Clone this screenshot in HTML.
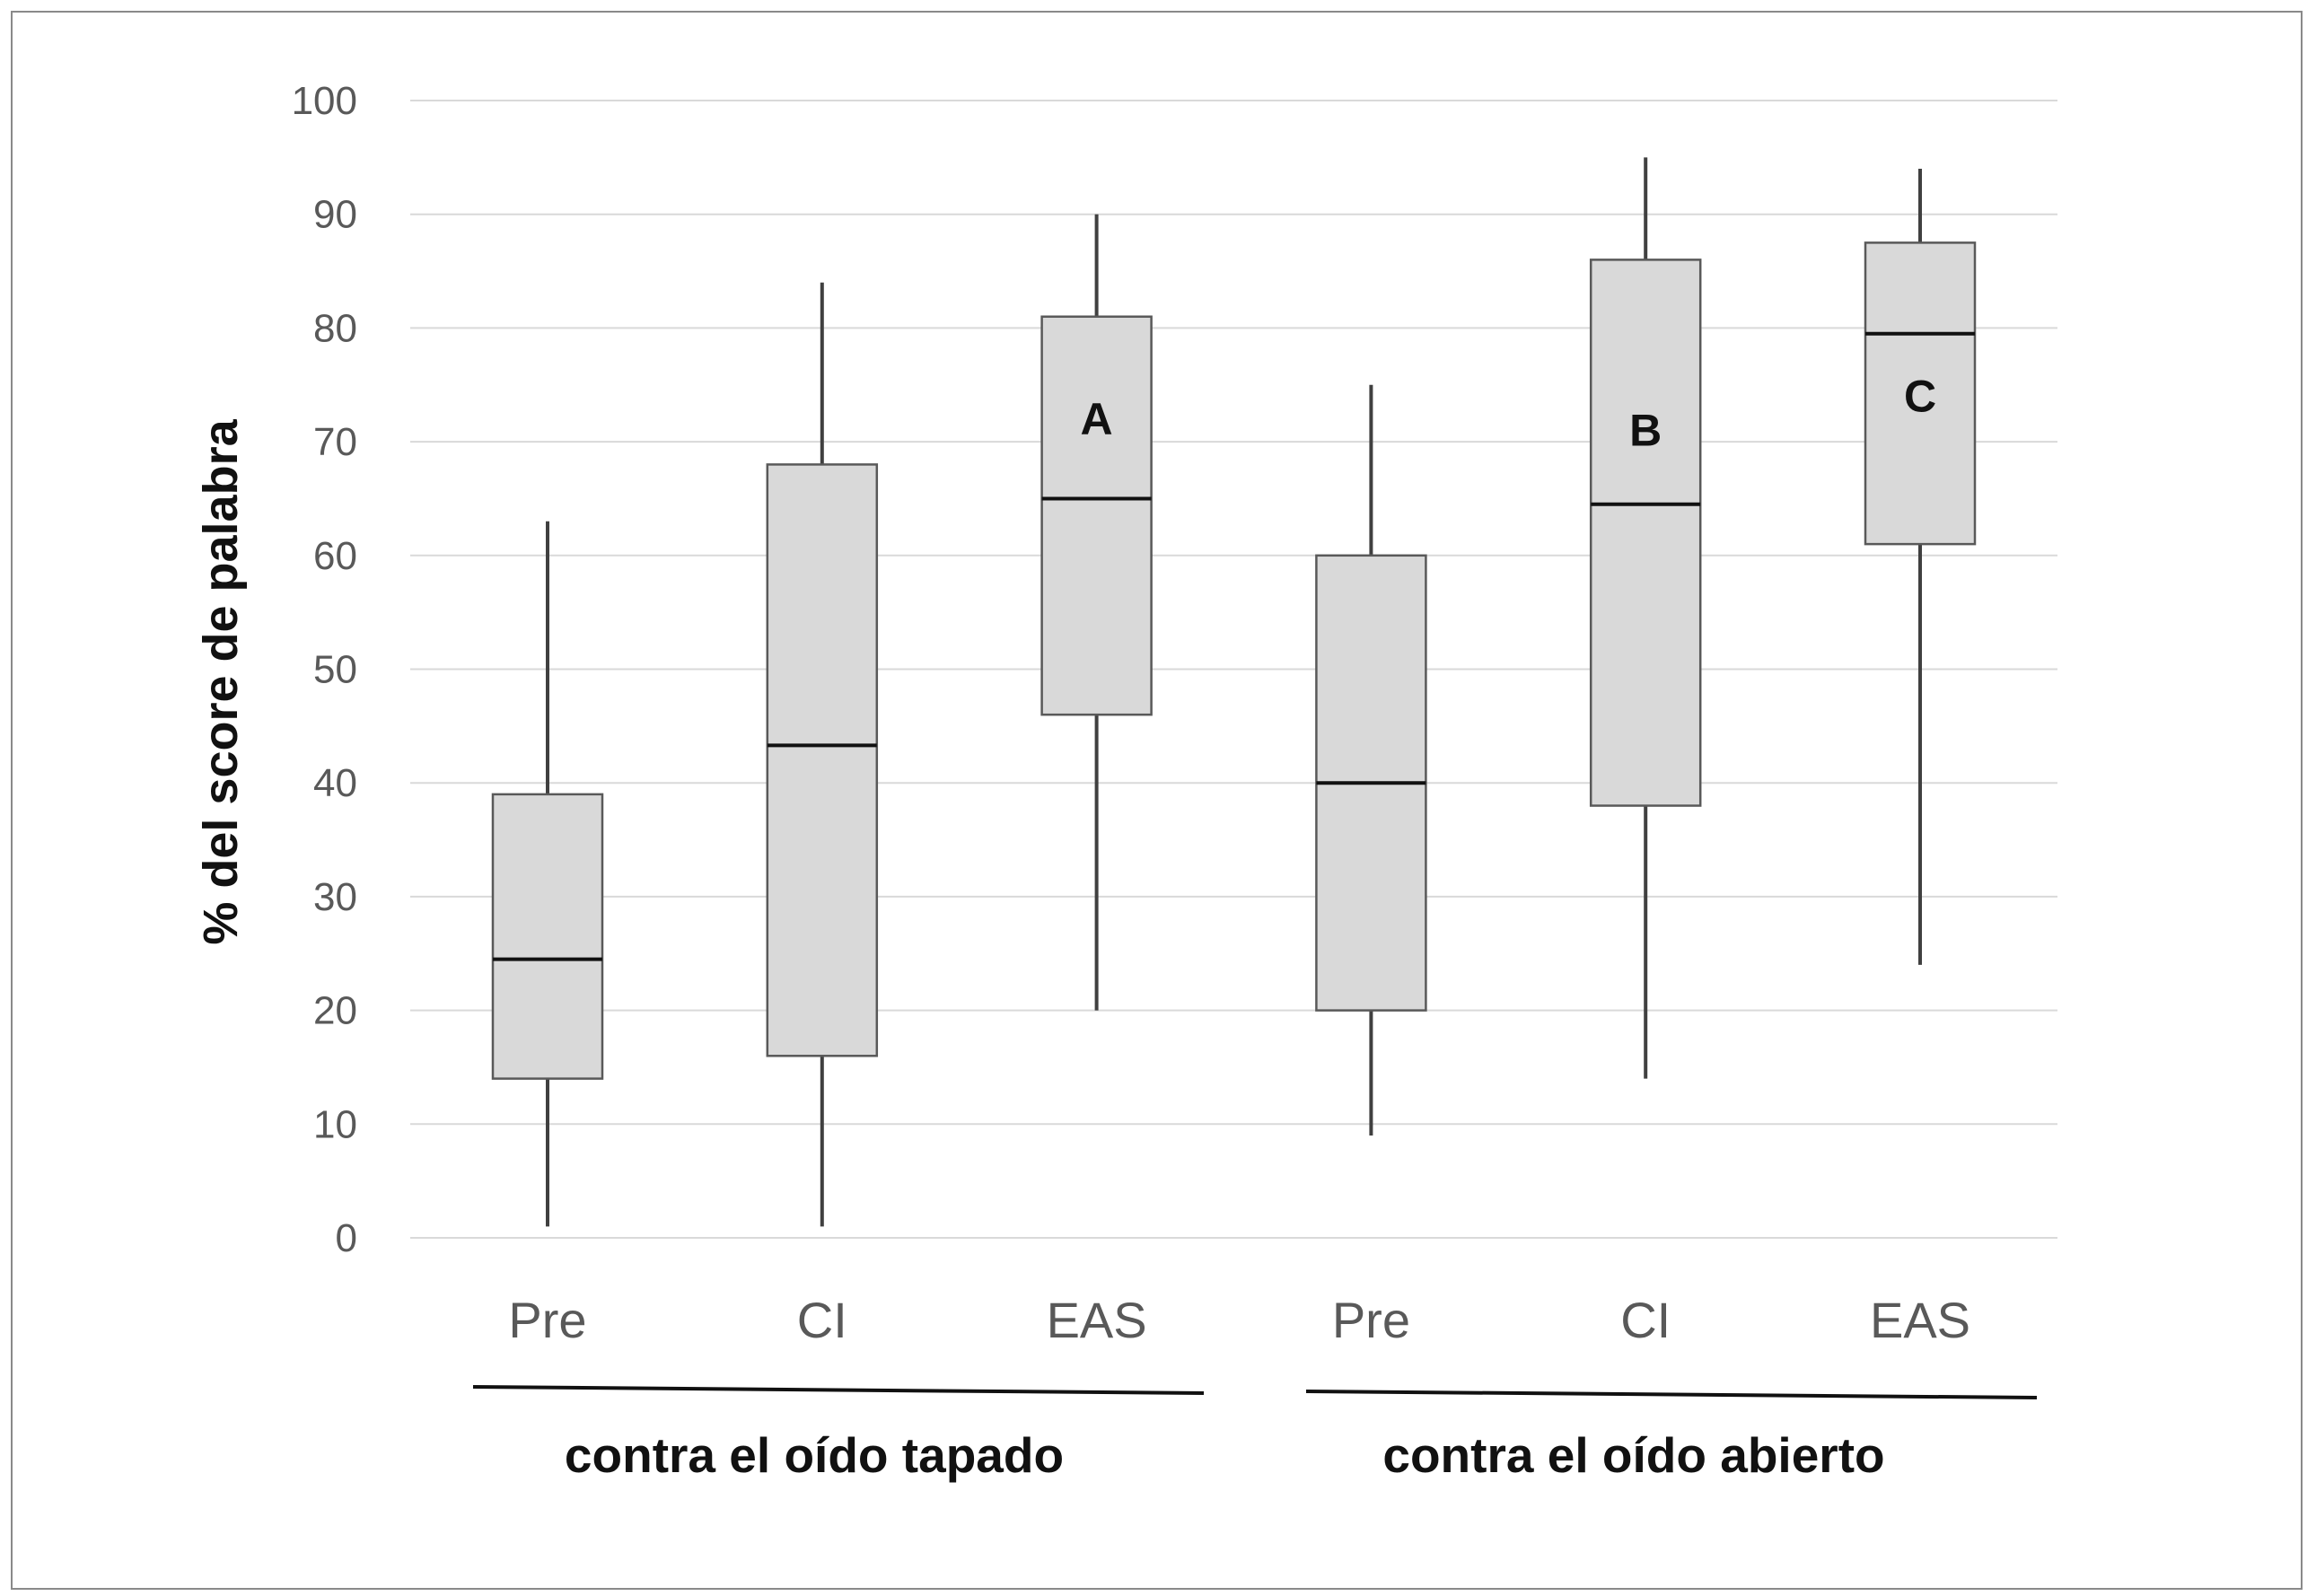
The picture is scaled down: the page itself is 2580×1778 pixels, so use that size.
<!DOCTYPE html>
<html><head><meta charset="utf-8"><style>
html,body{margin:0;padding:0;background:#fff;}
svg{display:block;font-family:"Liberation Sans","DejaVu Sans",sans-serif;}
</style></head><body>
<svg id="chart" width="2580" height="1778" viewBox="0 0 2580 1778" xmlns="http://www.w3.org/2000/svg">
<rect x="13" y="13" width="2551" height="1757" fill="#fff" stroke="#8a8a8a" stroke-width="2"/>
<g id="grid"></g>
<g id="boxes"></g>
<text transform="translate(264,760) rotate(-90)" text-anchor="middle" font-size="54" font-weight="bold" fill="#111">% del score de palabra</text>
<line x1="527" y1="1545" x2="1341" y2="1552" stroke="#111" stroke-width="4"/>
<line x1="1455" y1="1550" x2="2269" y2="1557" stroke="#111" stroke-width="4"/>
<text x="907" y="1640" text-anchor="middle" font-size="55" font-weight="bold" fill="#111">contra el oído tapado</text>
<text x="1820" y="1640" text-anchor="middle" font-size="55" font-weight="bold" fill="#111">contra el oído abierto</text>
</svg>
<script>
const categories=["Pre","CI","EAS","Pre","CI","EAS"];
const whiskerLow=[1,1,20,9,14,24];
const q1=[14,16,46,20,38,61];
const medians=[24.5,43.3,65,40,64.5,79.5];
const q3=[39,68,81,60,86,87.5];
const whiskerHigh=[63,84,90,75,95,94];
const annotations=["","","A","","B","C"];
const annotationY=[0,0,72,0,71,74];
const yTicks=[0,10,20,30,40,50,60,70,80,90,100];
const NS="http://www.w3.org/2000/svg";
const y=v=>1379-(v/100)*1267;
const x=i=>610+i*305.8;
const bw=122;
function mk(tag,attrs,parent){const e=document.createElementNS(NS,tag);for(const k in attrs)e.setAttribute(k,attrs[k]);parent.appendChild(e);return e;}
const grid=document.getElementById('grid');
yTicks.forEach(t=>{
  const l=mk('line',{x1:457,x2:2292,y1:y(t),y2:y(t),stroke:'#d9d9d9','stroke-width':2},grid);
  
  
  const tx=mk('text',{x:398,y:y(t)+15,'text-anchor':'end','font-size':44,fill:'#595959'},grid);
  tx.textContent=t;
  
  
});
const g=document.getElementById('boxes');
categories.forEach((c,i)=>{
  const cx=x(i);
  const w=mk('line',{x1:cx,x2:cx,y1:y(whiskerLow[i]),y2:y(whiskerHigh[i]),stroke:'#404040','stroke-width':4},g);
  
  
  const b=mk('rect',{x:cx-bw/2,y:y(q3[i]),width:bw,height:y(q1[i])-y(q3[i]),fill:'#d9d9d9',stroke:'#595959','stroke-width':2.5},g);
  
  
  const m=mk('line',{x1:cx-bw/2,x2:cx+bw/2,y1:y(medians[i]),y2:y(medians[i]),stroke:'#111','stroke-width':4},g);
  
  
  const lab=mk('text',{x:cx,y:1490,'text-anchor':'middle','font-size':56,fill:'#595959'},g);
  lab.textContent=c;
  
  
  if(annotations[i]){
    const a=mk('text',{x:cx,y:y(annotationY[i])+17,'text-anchor':'middle','font-size':50,'font-weight':'bold',fill:'#111'},g);
    a.textContent=annotations[i];
    
    
  }
});
</script>
</body></html>
